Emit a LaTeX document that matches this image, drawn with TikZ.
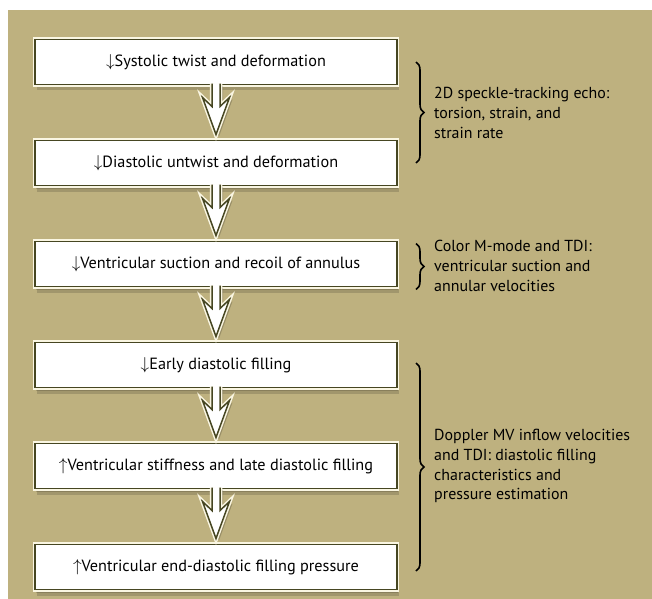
\documentclass[tikz,border=0pt]{standalone}
\usepackage{fontspec}
\setmainfont{PT Sans}
\usetikzlibrary{positioning,calc,shadows,decorations.pathreplacing}
\definecolor{tanbg}{RGB}{190,177,127}
\definecolor{olivedark}{RGB}{70,70,34}
\definecolor{cream}{RGB}{250,246,226}
\newcommand{\flowarrow}[2]{%
  \foreach \sty in {arrowshade,arrowunder,arrowfill,arrowline}
    \path[\sty] ($(#1.south)+(-4,0.8)$) -- ++(0,-22.8) -- ++(-9.5,9) -- ($(#2.north)+(0,6)$)
      -- ($(#1.south)+(13.5,-13)$) -- ++(-9.5,-9) -- ++(0,22.8);
}

\begin{document}
\begin{tikzpicture}[x=1bp, y=1bp,
    box/.style={draw=olivedark, line width=1.5bp, fill=white, outer sep=0pt,
      minimum width=362bp, minimum height=45bp, font=\fontsize{16.3}{19}\selectfont,
      drop shadow={shadow xshift=1bp, shadow yshift=-3bp, opacity=.15, fill=black},
      drop shadow={shadow xshift=2bp, shadow yshift=-6bp, opacity=.15, fill=black},
      preaction={draw=cream, line width=4.5bp}},
    note/.style={anchor=west, align=left, inner sep=0pt, font=\fontsize{16}{20}\selectfont},
    bracket/.style={draw=black, line width=1.6bp, decorate, decoration={brace, amplitude=8bp}},
    arrowshade/.style={fill=black, opacity=.2, transform canvas={xshift=3bp, yshift=-2bp}},
    arrowunder/.style={draw=cream, line width=4.5bp},
    arrowfill/.style={fill=white},
    arrowline/.style={draw=olivedark, line width=1.5bp, line join=miter}]
            \useasboundingbox (0,0) rectangle (652,-599);
            \fill[tanbg] (8,-10) rectangle (652,-599);
            \node[box] (twist) at (216,-62) {$\downarrow$Systolic twist and deformation};
            \node[box, below=56bp of twist] (untwist) {$\downarrow$Diastolic untwist and deformation};
            \node[box, below=56bp of untwist] (suction) {$\downarrow$Ventricular suction and recoil of annulus};
            \node[box, below=56bp of suction] (earlyfill) {$\downarrow$Early diastolic filling};
            \node[box, below=56bp of earlyfill] (stiffness) {$\uparrow$Ventricular stiffness and late diastolic filling};
            \node[box, below=56bp of stiffness] (endpressure) {$\uparrow$Ventricular end-diastolic filling pressure};
            \flowarrow{twist}{untwist}
            \flowarrow{untwist}{suction}
            \flowarrow{suction}{earlyfill}
            \flowarrow{earlyfill}{stiffness}
            \flowarrow{stiffness}{endpressure}
            \draw[bracket] ($(twist.east)+(19,0)$) -- ($(untwist.east)+(19,0)$);
            \draw[bracket] ($(suction.north east)+(19,-2)$) -- ($(suction.south east)+(19,-3)$);
            \draw[bracket] ($(earlyfill.east)+(19,2)$) -- ($(endpressure.east)+(19,-4)$);
            \node[note] (echo) at ($(twist.east)!0.5!(untwist.east)+(37,0)$) {2D speckle-tracking echo:\\torsion, strain, and\\strain rate};
            \node[note] (mmode) at ($(suction.east)+(37,-2)$) {Color M-mode and TDI:\\ventricular suction and\\annular velocities};
            \node[note] (doppler) at ($(earlyfill.east)!0.5!(endpressure.east)+(37,0)$) {Doppler MV inflow velocities\\and TDI: diastolic filling\\characteristics and\\pressure estimation};
        \end{tikzpicture}
\end{document}
